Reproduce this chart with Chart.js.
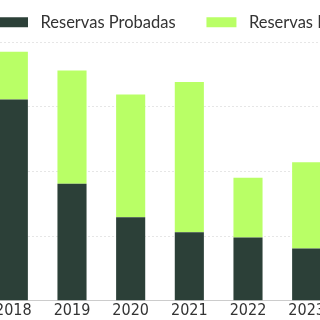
<!DOCTYPE html>
<html>
<head>
<meta charset="utf-8">
<script src="https://cdn.jsdelivr.net/npm/chart.js@4/dist/chart.umd.min.js"></script>
<style>
  html, body { margin: 0; padding: 0; background: #fff; overflow: hidden; }
  body { width: 320px; height: 320px; position: relative; }
  #wrap { position: absolute; left: -16px; top: 0; width: 440px; height: 320px; }
</style>
</head>
<body>
<div id="wrap"><canvas id="myChart"></canvas></div>
<script>
var years = ["2018", "2019", "2020", "2021", "2022", "2023"];
var probadas = [155.5, 90.5, 64.5, 53, 49, 40.5];
var probables = [37, 87.5, 95, 116, 46, 66.5];
var seriesNames = ["Reservas Probadas", "Reservas Probables"];
var barColors = ["#2c4038", "#b9ff66"];

// a little more room under the legend
var legendSpace = {
  id: "legendSpace",
  beforeInit: function(chart){
    var fit = chart.legend.fit;
    chart.legend.fit = function(){
      fit.call(this);
      this.height += 1.5;
    };
  }
};

new Chart("myChart", {
  type: "bar",
  data: {
    labels: years,
    datasets: [{
      label: " " + seriesNames[0] + "    ",
      backgroundColor: barColors[0],
      data: probadas
    }, {
      label: " " + seriesNames[1],
      backgroundColor: barColors[1],
      data: probables
    }]
  },
  options: {
    responsive: true,
    maintainAspectRatio: false,
    animation: false,
    categoryPercentage: 0.8,
    barPercentage: 0.62,
    layout: {padding: 0},
    plugins: {
      legend: {
        align: "start",
        labels: {
          boxWidth: 30,
          boxHeight: 10,
          padding: 14,
          color: "#333",
          font: {family: "Lato", size: 16.5}
        }
      },
      tooltip: {enabled: false}
    },
    scales: {
      x: {
        stacked: true,
        grid: {display: false, drawTicks: false},
        border: {color: "#ccc"},
        ticks: {padding: 0, color: "#333", font: {family: "'DejaVu Sans Condensed', 'DejaVu Sans'", size: 16}}
      },
      y: {
        stacked: true,
        min: 0,
        max: 200,
        ticks: {display: false, stepSize: 50},
        border: {display: false, dash: [2, 2]},
        grid: {color: "#e6e6e6", drawTicks: false}
      },
      y2: {
        position: "right",
        ticks: {display: false},
        grid: {display: false},
        border: {display: false},
        afterFit: function(scale){ scale.width = 88; }
      }
    }
  },
  plugins: [legendSpace]
});
</script>
</body>
</html>
